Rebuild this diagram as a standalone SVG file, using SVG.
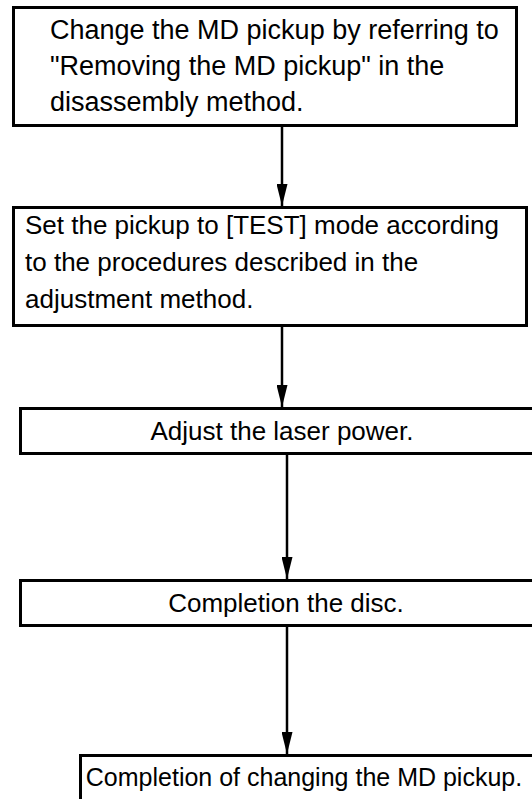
<svg xmlns="http://www.w3.org/2000/svg" width="532" height="799" viewBox="0 0 532 799">
<defs>
<style>
.box{fill:#fff;stroke:#000;stroke-width:3}
.t{font-family:"Liberation Sans",Arial,sans-serif;font-size:26px;fill:#000}
.t1{font-size:27px}
.t5{font-size:25px}
.c{text-anchor:middle}
.ln{stroke:#000;stroke-width:2.5;fill:none}
</style>
<marker id="ah" viewBox="0 0 22 11" refX="22" refY="5.5" markerWidth="22" markerHeight="11" markerUnits="userSpaceOnUse" orient="auto">
<path d="M0,0 L22,5.5 L0,11 Z" fill="#000"/>
</marker>
</defs>
<rect width="532" height="799" fill="#fff"/>
<g id="n1">
<rect class="box" x="13.5" y="7.5" width="503" height="118"/>
<text class="t t1" x="50" y="39">Change the MD pickup by referring to</text>
<text class="t t1" x="50" y="75">"Removing the MD pickup" in the</text>
<text class="t t1" x="50" y="111">disassembly method.</text>
</g>
<g id="n2">
<rect class="box" x="13.5" y="207.5" width="513" height="118"/>
<text class="t" x="25" y="234">Set the pickup to [TEST] mode according</text>
<text class="t" x="25" y="271">to the procedures described in the</text>
<text class="t" x="25" y="308">adjustment method.</text>
</g>
<g id="n3">
<rect class="box" x="20.5" y="408.5" width="520" height="45"/>
<text class="t c" x="282" y="440">Adjust the laser power.</text>
</g>
<g id="n4">
<rect class="box" x="20.5" y="580.5" width="520" height="45"/>
<text class="t c" x="286" y="612">Completion the disc.</text>
</g>
<g id="n5">
<rect class="box" x="80.5" y="755.5" width="460" height="60"/>
<text class="t t5 c" x="304" y="786">Completion of changing the MD pickup.</text>
</g>
<g id="connectors">
<line class="ln" x1="282" y1="127" x2="282" y2="206" marker-end="url(#ah)"/>
<line class="ln" x1="282" y1="327" x2="282" y2="407" marker-end="url(#ah)"/>
<line class="ln" x1="287" y1="455" x2="287" y2="579" marker-end="url(#ah)"/>
<line class="ln" x1="287" y1="627" x2="287" y2="754" marker-end="url(#ah)"/>
</g>
</svg>
